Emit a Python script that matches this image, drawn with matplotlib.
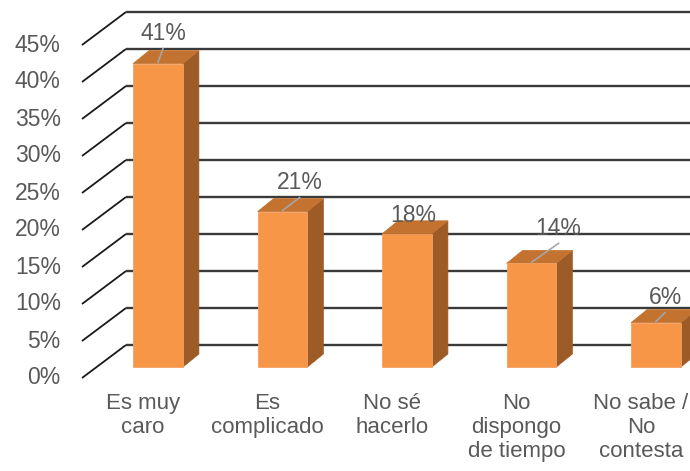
import numpy as np
import matplotlib.pyplot as plt
from matplotlib.patches import Polygon

# Survey answers and their share (%)
categories = ["Es muy\ncaro", "Es\ncomplicado", "No sé\nhacerlo", "No\ndispongo\nde tiempo", "No sabe /\nNo\ncontesta"]
values = [41, 21, 18, 14, 6]
tick_values = list(range(0, 50, 5))

# Layout (pixel units per category step / per percent point)
PX_X = 124.5
PX_Y = 7.4
# hand-placed value labels, offset in px from the bar's front top centre
label_off = [(5, -33), (17, -32), (6, -21), (27, -38), (9, -28)]

# 3D look: back wall shift and bar depth, in data units
wall_dx, wall_dy = 44 / PX_X, 33 / PX_Y
bar_dx, bar_dy = 15 / PX_X, 11 / PX_Y      # front face of bars sits a bit behind the front plane
depth_dx, depth_dy = 16 / PX_X, 13 / PX_Y
half_w = 0.2

front_col = '#F79646'
top_col = '#C3732F'
side_col = '#9C5B27'
text_col = '#595959'
fs = 16.5

plt.rcParams['font.family'] = ['Liberation Sans', 'DejaVu Sans']

fig = plt.figure(figsize=(6.9, 4.71), dpi=100)
ax = fig.add_axes([0, 0, 1, 1])
ax.set_xlim(-143 / PX_X, (690 - 143) / PX_X)
ax.set_ylim((378 - 471) / PX_Y, 378 / PX_Y)
ax.axis('off')

x_axis = -0.49   # front edge of the value axis
x_right = ax.get_xlim()[1] + 0.1

# gridlines: diagonal on the side wall, then flat on the back wall
for t in tick_values:
    ax.plot([x_axis, x_axis + wall_dx], [t, t + wall_dy], color='#1a1a1a', lw=1.3,
            solid_capstyle='butt', zorder=1)
    ax.plot([x_axis + wall_dx, x_right], [t + wall_dy, t + wall_dy], color='#3a3a3a', lw=1.7,
            solid_capstyle='butt', zorder=1)
    ax.text(x_axis - 0.17, t, f'{t}%', ha='right', va='center', fontsize=fs, color=text_col)

# bars
for i, v in enumerate(values):
    x0 = i + bar_dx - half_w
    x1 = i + bar_dx + half_w
    y0 = bar_dy
    y1 = bar_dy + v
    front = Polygon([(x0, y0), (x1, y0), (x1, y1), (x0, y1)], closed=True,
                    facecolor=front_col, edgecolor='#F4A062', lw=0.6, zorder=3)
    top = Polygon([(x0, y1), (x1, y1), (x1 + depth_dx, y1 + depth_dy), (x0 + depth_dx, y1 + depth_dy)],
                  closed=True, facecolor=top_col, edgecolor=top_col, lw=0.5, zorder=3)
    side = Polygon([(x1, y0), (x1 + depth_dx, y0 + depth_dy), (x1 + depth_dx, y1 + depth_dy), (x1, y1)],
                   closed=True, facecolor=side_col, edgecolor=side_col, lw=0.5, zorder=3)
    ax.add_patch(side)
    ax.add_patch(top)
    ax.add_patch(front)

    # value label with a leader line back to the bar top
    cx = i + bar_dx
    ox, oy = label_off[i]
    lx = cx + ox / PX_X
    ly = y1 - oy / PX_Y
    lead_end = ly - 18 / PX_Y
    if (ly - y1) * PX_Y > 25:
        ax.plot([cx, lx], [y1 + 0.15, lead_end], color='#A6A6A6', lw=1.2, zorder=4)
    ax.text(lx, ly - 0.4, f'{v}%', ha='center', va='center', fontsize=fs, color=text_col, zorder=5)

    # category label under the front plane
    ax.text(i, -2.0, categories[i], ha='center', va='top', fontsize=16, color=text_col,
            linespacing=1.2)

fig.savefig('out.png', dpi=100)
